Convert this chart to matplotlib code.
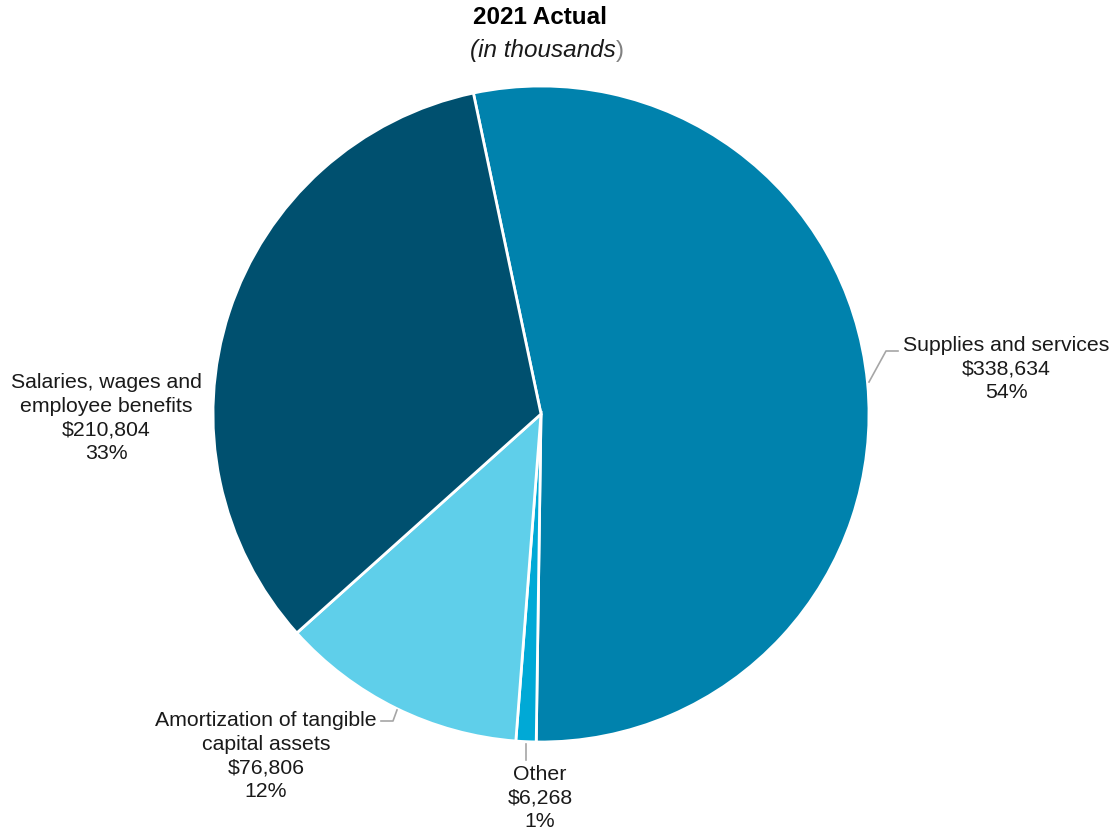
import matplotlib
matplotlib.use("Agg")
import matplotlib.pyplot as plt

plt.rcParams['font.family'] = ['Liberation Sans', 'DejaVu Sans']

categories = ["Supplies and services", "Other", "Amortization of tangible\ncapital assets",
              "Salaries, wages and\nemployee benefits"]
values = [338634, 6268, 76806, 210804]
colors = ["#0082AD", "#00A9D6", "#5FCFEA", "#00506F"]

W, H = 1115, 832
fig = plt.figure(figsize=(W / 100, H / 100), dpi=100)
cx, cy, r = 541, 414, 328
ax = fig.add_axes([(cx - r) / W, (H - cy - r) / H, 2 * r / W, 2 * r / H])
ax.pie(values, colors=colors, startangle=101.9, counterclock=False, radius=1,
       wedgeprops=dict(edgecolor="white", linewidth=2))
ax.set_xlim(-1, 1)
ax.set_ylim(-1, 1)
ax.axis("off")

def fx(px):
    return px / W

def fy(py):
    return 1 - py / H

total = sum(values)
fs = 15.3
txt_color = "#1a1a1a"

# label centres in pixels (layout)
label_pos = [(1006, 369), (540, 798), (266, 756), (106, 418)]
for cat, v, (px, py) in zip(categories, values, label_pos):
    s = f"{cat}\n${v:,}\n{round(100 * v / total)}%"
    fig.text(fx(px), fy(py), s, ha="center", va="center", fontsize=fs,
             color=txt_color, linespacing=1.32)

# leader lines
lc = "#A6A6A6"
def leader(pts):
    xs = [fx(p[0]) for p in pts]
    ys = [fy(p[1]) for p in pts]
    fig.add_artist(plt.Line2D(xs, ys, color=lc, lw=1.2, transform=fig.transFigure))

leader([(869, 382), (886, 351), (898, 351)])
leader([(526, 744), (526, 760)])
leader([(381, 721), (393, 721), (397, 710)])

# title
fig.text(fx(540), fy(18), "2021 Actual", ha="center", va="center", fontsize=17.5,
         fontweight="bold", color="black")
t = fig.text(fx(543), fy(51), "(in thousands", ha="center", va="center",
             fontsize=17.5, fontstyle="italic", color=txt_color)
ax.annotate(")", xy=(1, 0.5), xycoords=t, xytext=(0, 0), textcoords="offset points",
            ha="left", va="center", fontsize=17.5, color="#808080", annotation_clip=False)

fig.savefig("out.png", dpi=100)
